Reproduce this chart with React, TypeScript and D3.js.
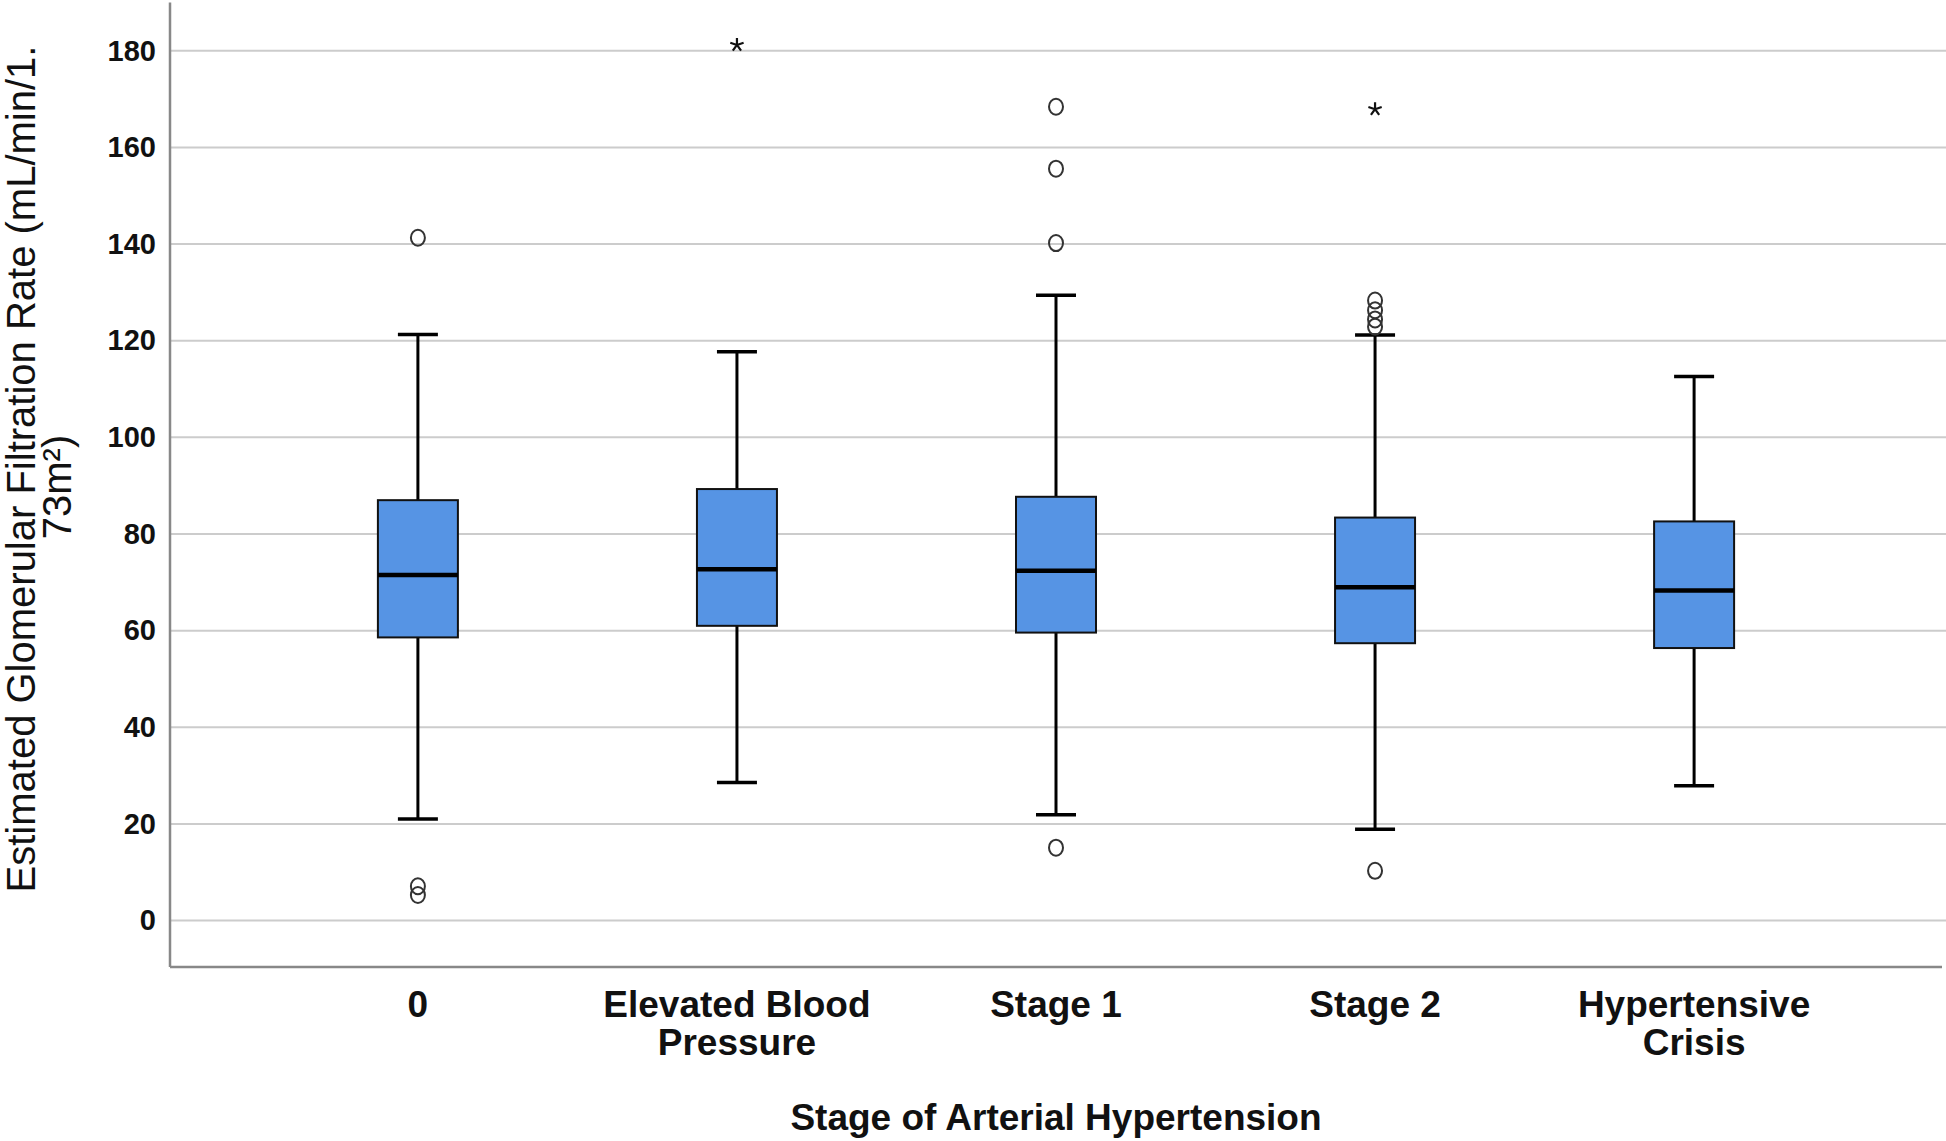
import React, { useEffect, useRef } from 'react';
import * as d3 from 'd3';

// categories and box statistics
const categories = ['0', 'Elevated Blood Pressure', 'Stage 1', 'Stage 2', 'Hypertensive Crisis'];
const categoryLines = [['0'], ['Elevated Blood', 'Pressure'], ['Stage 1'], ['Stage 2'], ['Hypertensive', 'Crisis']];
const whiskerLow = [21.0, 28.6, 21.9, 18.9, 27.9];
const q1 = [58.6, 61.0, 59.6, 57.4, 56.4];
const median = [71.5, 72.7, 72.4, 69.0, 68.3];
const q3 = [87.0, 89.3, 87.7, 83.4, 82.6];
const whiskerHigh = [121.3, 117.7, 129.4, 121.2, 112.6];
const outliers = [
  [141.3, 7.1, 5.3],
  [],
  [168.4, 155.6, 140.2, 15.1],
  [128.3, 126.3, 124.4, 122.9, 10.3],
  [],
];
const extremes = [[], [181.2], [], [167.9], []];
const yTicks = [0, 20, 40, 60, 80, 100, 120, 140, 160, 180];

const W = 1946;
const H = 1141;

const App: React.FC = () => {
  const svgRef = useRef<SVGSVGElement>(null);

  useEffect(() => {
    if (!svgRef.current) return;
    const svg = d3.select(svgRef.current);
    svg.selectAll('*').remove();

    const left = 170;
    const right = 1942;
    const bottom = 967;
    const top = 2.4;

    const x = d3.scalePoint<string>().domain(categories).range([left, right]).padding(0.777);
    const y = d3.scaleLinear().domain([-9.6, 190]).range([bottom, top]);

    const font = 'Arial, "Liberation Sans", sans-serif';

    // gridlines
    svg.append('g')
      .selectAll('line')
      .data(yTicks)
      .enter()
      .append('line')
      .attr('x1', left)
      .attr('x2', W)
      .attr('y1', d => y(d))
      .attr('y2', d => y(d))
      .attr('stroke', '#cccccc')
      .attr('stroke-width', 2);

    // y axis
    const yAxis = svg.append('g')
      .attr('transform', `translate(${left},0)`)
      .call(d3.axisLeft(y).tickValues(yTicks).tickSize(0).tickPadding(14).tickFormat(d3.format('d')));
    yAxis.select('.domain').remove();
    yAxis.selectAll('text')
      .style('font-size', '29px')
      .style('font-weight', '700')
      .style('font-family', font)
      .attr('fill', '#111');

    svg.append('line')
      .attr('x1', left).attr('x2', left)
      .attr('y1', top).attr('y2', bottom)
      .attr('stroke', '#888').attr('stroke-width', 2.5);
    svg.append('line')
      .attr('x1', left).attr('x2', right)
      .attr('y1', bottom).attr('y2', bottom)
      .attr('stroke', '#888').attr('stroke-width', 2.5);

    // x labels
    const xl = svg.append('g');
    categories.forEach((c, i) => {
      const t = xl.append('text')
        .attr('x', x(c)!)
        .attr('y', 1017)
        .attr('text-anchor', 'middle')
        .style('font-size', '37px')
        .style('font-weight', '700')
        .style('font-family', font)
        .attr('fill', '#111');
      categoryLines[i].forEach((ln, j) => {
        t.append('tspan').attr('x', x(c)!).attr('dy', j === 0 ? 0 : 38).text(ln);
      });
    });

    svg.append('text')
      .attr('x', (left + right) / 2)
      .attr('y', 1130)
      .attr('text-anchor', 'middle')
      .style('font-size', '37px')
      .style('font-weight', '700')
      .style('font-family', font)
      .attr('fill', '#111')
      .text('Stage of Arterial Hypertension');

    // y title
    svg.append('text')
      .attr('transform', 'translate(35,469) rotate(-90)')
      .attr('text-anchor', 'middle')
      .style('font-size', '40px')
      .style('font-family', font)
      .attr('fill', '#111')
      .text('Estimated Glomerular Filtration Rate (mL/min/1.');
    svg.append('text')
      .attr('transform', 'translate(71,487) rotate(-90)')
      .attr('text-anchor', 'middle')
      .style('font-size', '40px')
      .style('font-family', font)
      .attr('fill', '#111')
      .text('73m²)');

    const boxW = 80;
    const capW = 40;
    const g = svg.append('g');

    categories.forEach((c, i) => {
      const cx = x(c)!;
      // whiskers
      g.append('line')
        .attr('x1', cx).attr('x2', cx)
        .attr('y1', y(whiskerHigh[i])).attr('y2', y(q3[i]))
        .attr('stroke', '#000').attr('stroke-width', 3);
      g.append('line')
        .attr('x1', cx).attr('x2', cx)
        .attr('y1', y(q1[i])).attr('y2', y(whiskerLow[i]))
        .attr('stroke', '#000').attr('stroke-width', 3);
      [whiskerHigh[i], whiskerLow[i]].forEach(v => {
        g.append('line')
          .attr('x1', cx - capW / 2).attr('x2', cx + capW / 2)
          .attr('y1', y(v)).attr('y2', y(v))
          .attr('stroke', '#000').attr('stroke-width', 3.5);
      });
      // box
      g.append('rect')
        .attr('x', cx - boxW / 2)
        .attr('y', y(q3[i]))
        .attr('width', boxW)
        .attr('height', y(q1[i]) - y(q3[i]))
        .attr('fill', '#5694e4')
        .attr('stroke', '#111')
        .attr('stroke-width', 2);
      g.append('line')
        .attr('x1', cx - boxW / 2).attr('x2', cx + boxW / 2)
        .attr('y1', y(median[i])).attr('y2', y(median[i]))
        .attr('stroke', '#000').attr('stroke-width', 4.5);

      // outliers
      g.selectAll(null)
        .data(outliers[i])
        .enter()
        .append('ellipse')
        .attr('cx', cx)
        .attr('cy', d => y(d))
        .attr('rx', 7)
        .attr('ry', 8)
        .attr('fill', 'none')
        .attr('stroke', '#333')
        .attr('stroke-width', 2);

      // extremes (asterisks)
      extremes[i].forEach(v => {
        const p = d3.path();
        for (let k = 0; k < 5; k++) {
          const a = -Math.PI / 2 + (k * 2 * Math.PI) / 5;
          p.moveTo(cx, y(v));
          p.lineTo(cx + 7 * Math.cos(a), y(v) + 7 * Math.sin(a));
        }
        g.append('path')
          .attr('d', p.toString())
          .attr('stroke', '#111')
          .attr('stroke-width', 2.2)
          .attr('fill', 'none');
      });
    });
  }, []);

  return (
    <div style={{ position: 'absolute', left: 0, top: 0, background: '#fff' }}>
      <svg ref={svgRef} width={W} height={H} style={{ display: 'block' }}></svg>
    </div>
  );
};

export default App;
